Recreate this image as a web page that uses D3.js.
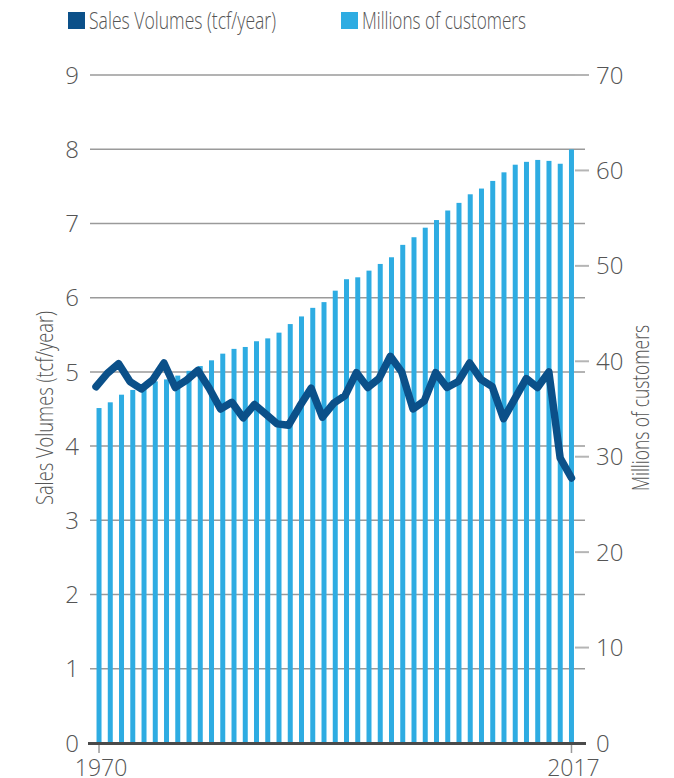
<!DOCTYPE html>
<html>
<head>
<meta charset="utf-8">
<script src="https://cdn.jsdelivr.net/npm/d3@7"></script>
<style>
  html, body { margin: 0; padding: 0; background: #fff; }
  svg { display: block; }
  text { font-family: "Open Sans", "Noto Sans", sans-serif; font-weight: 300; fill: #555; }
</style>
</head>
<body>
<svg id="chart" width="674" height="778"></svg>
<script>
// ---- data ----
const seriesNames = ["Sales Volumes (tcf/year)", "Millions of customers"];
const xTickLabels = ["1970", "2017"];
const leftTicks = [0, 1, 2, 3, 4, 5, 6, 7, 8, 9];
const rightTicks = [0, 10, 20, 30, 40, 50, 60, 70];
// Millions of customers (bars, right axis)
const customers = [35.1, 35.7, 36.5, 37.0, 37.5, 37.9, 38.1, 38.5, 39.0, 39.5,
                   40.1, 40.8, 41.3, 41.5, 42.1, 42.4, 43.0, 43.9, 44.7, 45.6,
                   46.2, 47.4, 48.6, 48.8, 49.5, 50.2, 50.9, 52.2, 53.0, 54.0,
                   54.8, 55.8, 56.6, 57.5, 58.1, 58.9, 59.8, 60.6, 60.9, 61.1,
                   61.0, 60.7, 62.2];
// Sales volumes (line, left axis)
const sales = [4.80, 4.98, 5.11, 4.87, 4.77, 4.89, 5.12, 4.79, 4.89, 5.02,
               4.78, 4.50, 4.59, 4.38, 4.56, 4.43, 4.30, 4.28, 4.54, 4.78,
               4.39, 4.58, 4.68, 4.99, 4.79, 4.91, 5.21, 5.00, 4.50, 4.61,
               4.99, 4.79, 4.87, 5.12, 4.90, 4.80, 4.37, 4.64, 4.91, 4.79,
               5.00, 3.84, 3.57];

// ---- layout ----
const lineColor = "#0b5089";
const barColor = "#2eace2";
const svg = d3.select("#chart");
const idx = d3.range(customers.length);

const x = d3.scaleBand().domain(idx).range([93.4, 577.1]).paddingInner(0.556).paddingOuter(0.278);
const xLine = d3.scalePoint().domain(idx).range([96, 571.5]);
const yL = d3.scaleLinear().domain([0, 9]).range([743, 75]);
const yR = d3.scaleLinear().domain([0, 70]).range([743, 75]);

// gridlines (left axis)
svg.append("g").selectAll("line").data(leftTicks.filter(d => d > 0)).join("line")
  .attr("x1", 90).attr("x2", 585)
  .attr("y1", d => yL(d)).attr("y2", d => yL(d))
  .attr("stroke", "#9a9a9a").attr("stroke-width", 1.5);

// right axis tick marks
svg.append("g").selectAll("line").data(rightTicks.filter(d => d > 0)).join("line")
  .attr("x1", 575).attr("x2", 589)
  .attr("y1", d => yR(d)).attr("y2", d => yR(d))
  .attr("stroke", "#b5b5b5").attr("stroke-width", 2);

// bars
svg.append("g").selectAll("rect").data(customers).join("rect")
  .attr("x", (d, i) => x(i))
  .attr("width", x.bandwidth())
  .attr("y", d => yR(d))
  .attr("height", d => yR(0) - yR(d))
  .attr("fill", barColor);

// baseline
svg.append("line").attr("x1", 88).attr("x2", 586).attr("y1", 743.5).attr("y2", 743.5)
  .attr("stroke", "#4a4a4a").attr("stroke-width", 3);

// x ticks
const xTickIdx = [0, customers.length - 1];
svg.append("g").selectAll("line").data(xTickIdx).join("line")
  .attr("x1", d => x(d) + x.bandwidth() / 2).attr("x2", d => x(d) + x.bandwidth() / 2)
  .attr("y1", 745).attr("y2", 753)
  .attr("stroke", "#9a9a9a").attr("stroke-width", 1.5);
svg.append("g").selectAll("text").data(xTickIdx).join("text")
  .attr("x", d => x(d) + x.bandwidth() / 2 + 2)
  .attr("y", 776)
  .attr("text-anchor", "middle")
  .attr("font-size", 23)
  .text((d, i) => xTickLabels[i]);

// line
svg.append("path").datum(sales)
  .attr("fill", "none")
  .attr("stroke", lineColor)
  .attr("stroke-width", 7.5)
  .attr("stroke-linejoin", "round")
  .attr("stroke-linecap", "round")
  .attr("d", d3.line().x((d, i) => xLine(i)).y(d => yL(d)));

// left axis labels
svg.append("g").selectAll("text").data(leftTicks).join("text")
  .attr("x", 79).attr("y", d => yL(d)).attr("dy", "0.36em")
  .attr("text-anchor", "end").attr("font-size", 24)
  .text(d => d);

// right axis labels
svg.append("g").selectAll("text").data(rightTicks).join("text")
  .attr("x", 596).attr("y", d => yR(d)).attr("dy", "0.36em")
  .attr("text-anchor", "start").attr("font-size", 24)
  .text(d => d);

// axis titles
svg.append("text")
  .attr("transform", "translate(53,408) rotate(-90)")
  .attr("text-anchor", "middle").attr("font-size", 23)
  .attr("textLength", 194).attr("lengthAdjust", "spacingAndGlyphs")
  .text(seriesNames[0]);
svg.append("text")
  .attr("transform", "translate(649,408) rotate(-90)")
  .attr("text-anchor", "middle").attr("font-size", 23)
  .attr("textLength", 166).attr("lengthAdjust", "spacingAndGlyphs")
  .text(seriesNames[1]);

// legend
const legend = [
  { name: seriesNames[0], color: lineColor, x: 68, w: 187 },
  { name: seriesNames[1], color: barColor, x: 341, w: 164 }
];
const lg = svg.append("g").selectAll("g").data(legend).join("g")
  .attr("transform", d => `translate(${d.x},12)`);
lg.append("rect").attr("width", 17).attr("height", 17).attr("fill", d => d.color);
lg.append("text").attr("x", 21).attr("y", 17)
  .attr("font-size", 23)
  .attr("textLength", d => d.w).attr("lengthAdjust", "spacingAndGlyphs")
  .text(d => d.name);
</script>
</body>
</html>
